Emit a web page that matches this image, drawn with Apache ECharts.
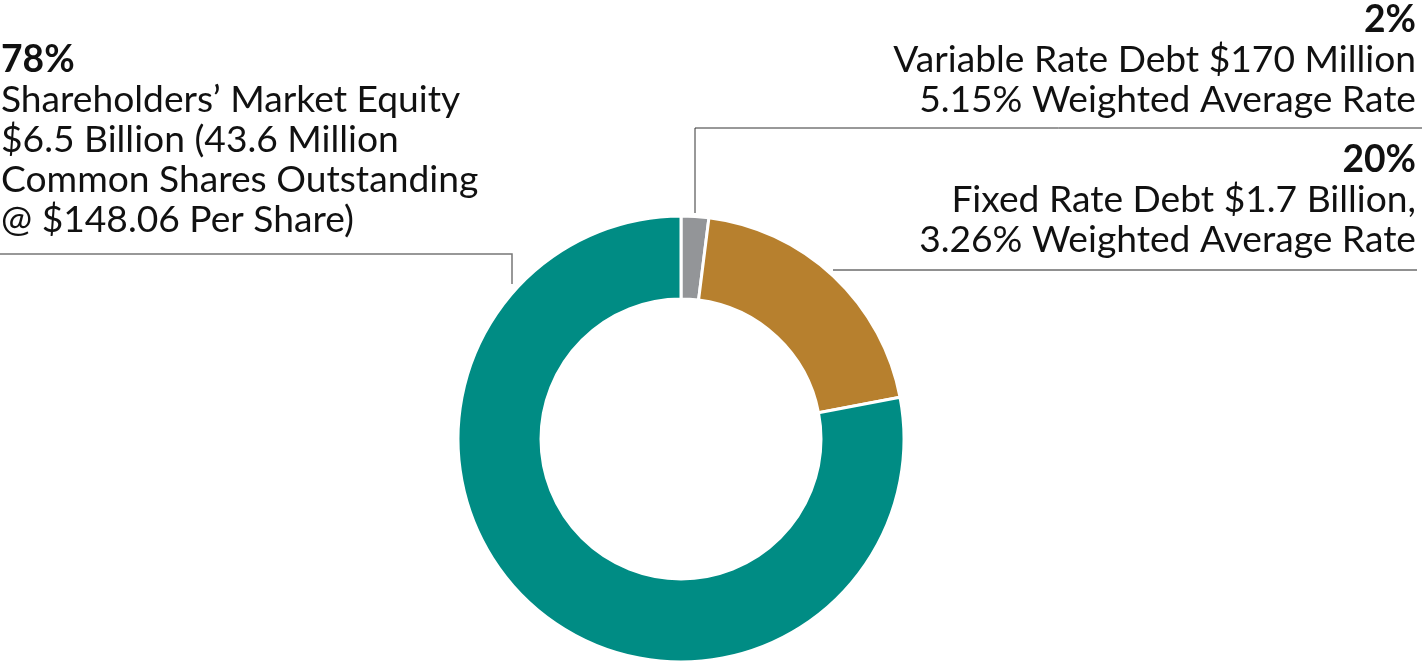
<!DOCTYPE html>
<html><head><meta charset="utf-8">
<script src="https://cdn.jsdelivr.net/npm/echarts@6/dist/echarts.min.js"></script>
<style>html,body{margin:0;padding:0;background:#fff}#c{width:1422px;height:667px}</style>
</head><body><div id="c"></div>
<script>
const categories = ['Variable Rate Debt', 'Fixed Rate Debt', 'Shareholders’ Market Equity'];
const values = [2, 20, 78];
const colors = ['#939598', '#B7802E', '#008C84'];
const pctLabels = ['2%', '20%', '78%'];
const descLabels = [
  ['Variable Rate Debt $170 Million', '5.15% Weighted Average Rate'],
  ['Fixed Rate Debt $1.7 Billion,', '3.26% Weighted Average Rate'],
  ['Shareholders’ Market Equity', '$6.5 Billion (43.6 Million', 'Common Shares Outstanding', '@ $148.06 Per Share)']
];

const chart = echarts.init(document.getElementById('c'));
const FONT = 'Lato';
const FS = 37.2, LH = 40;
function labelText(i){
  return '{b|' + pctLabels[i] + '}\n' + descLabels[i].map(s => '{n|' + s + '}').join('\n');
}
const rich = {
  b: {fontFamily: FONT, fontWeight: 'bold', fontSize: FS, lineHeight: LH, fill: '#111'},
  n: {fontFamily: FONT, fontSize: FS, lineHeight: LH, fill: '#111'}
};
function textEl(i, x, y, align){
  return {type: 'text', x: x, y: y, silent: true,
    style: {text: labelText(i), rich: rich, align: align, verticalAlign: 'top', fill: '#111', fontFamily: FONT, fontSize: FS, lineHeight: LH}};
}
chart.setOption({
  animation: false,
  series: [{
    type: 'pie',
    center: [681, 439],
    radius: [140, 223],
    startAngle: 90,
    clockwise: true,
    label: {show: false},
    labelLine: {show: false},
    itemStyle: {borderColor: '#fff', borderWidth: 3},
    data: categories.map((c, i) => ({name: c, value: values[i], itemStyle: {color: colors[i]}}))
  }],
  graphic: [
    textEl(0, 1416, 0, 'right'),
    textEl(1, 1416, 140, 'right'),
    textEl(2, 1, 40, 'left'),
    {type: 'polyline', silent: true, shape: {points: [[695, 213], [695, 128], [1422, 128]]}, style: {stroke: '#333', lineWidth: 1, fill: null}},
    {type: 'polyline', silent: true, shape: {points: [[833, 270], [1417, 270]]}, style: {stroke: '#222', lineWidth: 1, fill: null}},
    {type: 'polyline', silent: true, shape: {points: [[0, 254], [512, 254], [512, 284]]}, style: {stroke: '#777', lineWidth: 1.5, fill: null}}
  ]
});
</script></body></html>
